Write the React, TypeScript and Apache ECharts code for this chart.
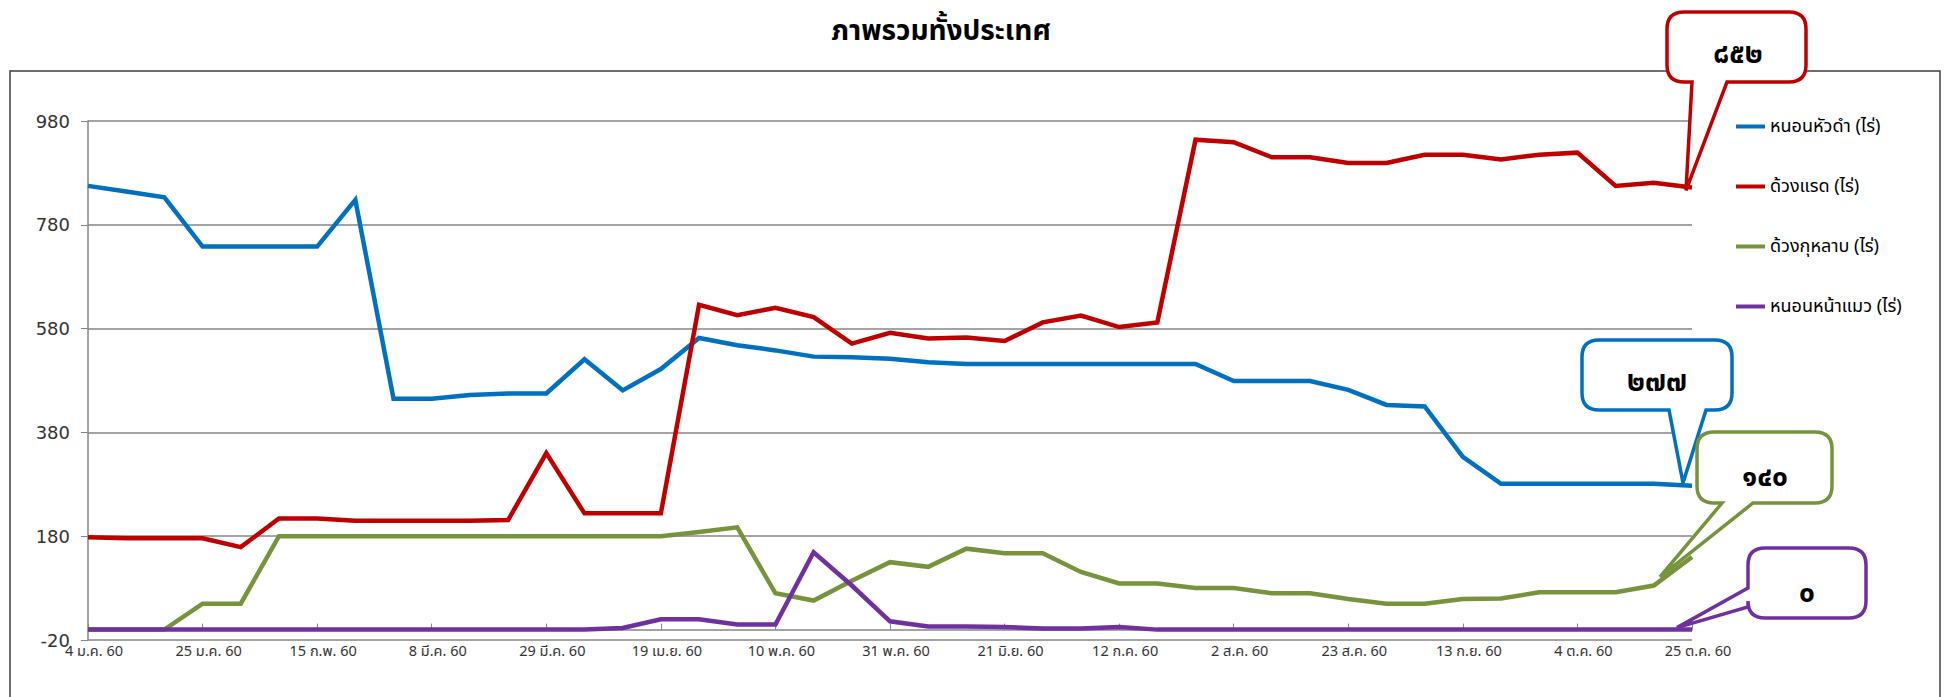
import React, { useEffect, useRef } from "react";
import * as echarts from "echarts";

const categories = [
  "4 ม.ค. 60", "11 ม.ค. 60", "18 ม.ค. 60", "25 ม.ค. 60",
  "1 ก.พ. 60", "8 ก.พ. 60", "15 ก.พ. 60", "22 ก.พ. 60",
  "1 มี.ค. 60", "8 มี.ค. 60", "15 มี.ค. 60", "22 มี.ค. 60", "29 มี.ค. 60",
  "5 เม.ย. 60", "12 เม.ย. 60", "19 เม.ย. 60", "26 เม.ย. 60",
  "3 พ.ค. 60", "10 พ.ค. 60", "17 พ.ค. 60", "24 พ.ค. 60", "31 พ.ค. 60",
  "7 มิ.ย. 60", "14 มิ.ย. 60", "21 มิ.ย. 60", "28 มิ.ย. 60",
  "5 ก.ค. 60", "12 ก.ค. 60", "19 ก.ค. 60", "26 ก.ค. 60",
  "2 ส.ค. 60", "9 ส.ค. 60", "16 ส.ค. 60", "23 ส.ค. 60", "30 ส.ค. 60",
  "6 ก.ย. 60", "13 ก.ย. 60", "20 ก.ย. 60", "27 ก.ย. 60",
  "4 ต.ค. 60", "11 ต.ค. 60", "18 ต.ค. 60", "25 ต.ค. 60",
];

const seriesNames = ["หนอนหัวดำ (ไร่)", "ด้วงแรด (ไร่)", "ด้วงกุหลาบ (ไร่)", "หนอนหน้าแมว (ไร่)"];

const blackHeadedCaterpillar = [
  855, 844, 833, 738, 738, 738, 738, 828, 445, 445,
  452, 455, 455, 521, 461, 502, 562, 548, 538, 526,
  525, 522, 515, 512, 512, 512, 512, 512, 512, 512,
  479, 479, 479, 462, 433, 430, 333, 281, 281, 281,
  281, 281, 277,
];
const rhinocerosBeetle = [
  178, 176, 176, 176, 159, 214, 214, 210, 210, 210,
  210, 211, 340, 224, 224, 224, 626, 606, 620, 602,
  551, 572, 561, 563, 556, 592, 605, 583, 592, 944,
  939, 910, 910, 899, 899, 915, 915, 906, 915, 919,
  855, 861, 852,
];
const roseBeetle = [
  0, 0, 0, 50, 50, 180, 180, 180, 180, 180,
  180, 180, 180, 180, 180, 180, 188, 197, 70, 56,
  94, 130, 121, 156, 147, 147, 111, 89, 89, 80,
  80, 70, 70, 59, 50, 50, 59, 60, 72, 72,
  72, 85, 140,
];
const nettleCaterpillar = [
  0, 0, 0, 0, 0, 0, 0, 0, 0, 0,
  0, 0, 0, 0, 3, 20, 20, 10, 10, 149,
  85, 16, 6, 6, 5, 2, 2, 5, 0, 0,
  0, 0, 0, 0, 0, 0, 0, 0, 0, 0,
  0, 0, 0,
];

const seriesColors = ["#0070C0", "#C00000", "#77933C", "#7030A0"];
const calloutTexts = ["๒๗๗", "๘๕๒", "๑๔๐", "๐"];
const titleText = "ภาพรวมทั้งประเทศ";

const THAI_FONT = "Tahoma, 'Noto Sans Thai', 'Leelawadee UI', Loma, Garuda, 'DejaVu Sans', sans-serif";

function calloutBottom(x0: number, y0: number, x1: number, y1: number, r: number, b1: number, b2: number, tx: number, ty: number) {
  return `M${x0 + r} ${y0} L${x1 - r} ${y0} Q${x1} ${y0} ${x1} ${y0 + r} L${x1} ${y1 - r} Q${x1} ${y1} ${x1 - r} ${y1} L${b2} ${y1} L${tx} ${ty} L${b1} ${y1} L${x0 + r} ${y1} Q${x0} ${y1} ${x0} ${y1 - r} L${x0} ${y0 + r} Q${x0} ${y0} ${x0 + r} ${y0} Z`;
}
function calloutLeft(x0: number, y0: number, x1: number, y1: number, r: number, b1: number, b2: number, tx: number, ty: number) {
  return `M${x0 + r} ${y0} L${x1 - r} ${y0} Q${x1} ${y0} ${x1} ${y0 + r} L${x1} ${y1 - r} Q${x1} ${y1} ${x1 - r} ${y1} L${x0 + r} ${y1} Q${x0} ${y1} ${x0} ${y1 - r} L${x0} ${b2} L${tx} ${ty} L${x0} ${b1} L${x0} ${y0 + r} Q${x0} ${y0} ${x0 + r} ${y0} Z`;
}

export default function App() {
  const ref = useRef<HTMLDivElement>(null);
  useEffect(() => {
    document.body.style.margin = "0";
    const chart = echarts.init(ref.current!, null, { renderer: "svg" });
    const data = [blackHeadedCaterpillar, rhinocerosBeetle, roseBeetle, nettleCaterpillar];
    chart.setOption({
      animation: false,
      backgroundColor: "#ffffff",
      grid: { left: 88, right: 260, top: 121, bottom: 57, containLabel: false, outerBoundsMode: "none" },
      legend: {
        orient: "vertical",
        left: 1731,
        top: 111,
        icon: "rect",
        itemWidth: 29,
        itemHeight: 4,
        itemGap: 39,
        data: seriesNames,
        textStyle: { fontSize: 18, color: "#000", fontFamily: THAI_FONT, lineHeight: 21 },
      },
      xAxis: {
        type: "category",
        data: categories,
        boundaryGap: false,
        axisLine: { lineStyle: { color: "#868686", width: 1.5 } },
        axisTick: { show: true, interval: 2, inside: true, length: 6, lineStyle: { color: "#868686" } },
        axisLabel: { interval: 2, margin: 4, fontSize: 14.5, color: "#333", fontFamily: THAI_FONT, padding: [0, 0, 0, 12] },
        splitLine: { show: false },
      },
      yAxis: {
        type: "value",
        min: -20,
        max: 980,
        interval: 200,
        axisLine: { show: true, lineStyle: { color: "#868686", width: 1.5 } },
        axisTick: { show: true, length: 7, lineStyle: { color: "#868686" } },
        axisLabel: { margin: 18, fontSize: 18, color: "#333", fontFamily: "Tahoma, 'DejaVu Sans', sans-serif" },
        splitLine: { show: true, lineStyle: { color: "#868686", width: 1.5 } },
      },
      series: seriesNames.map((name, i) => ({
        name,
        type: "line",
        data: data[i],
        symbol: "none",
        color: seriesColors[i],
        lineStyle: { width: 4.5, color: seriesColors[i], join: "miter" },
        z: 2 + i,
      })),
    });

    const last = categories.length - 1;
    const pt = (v: number) => chart.convertToPixel({ xAxisIndex: 0, yAxisIndex: 0 }, [last, v]) as number[];
    const pBlue = pt(blackHeadedCaterpillar[last]);
    const pRed = pt(rhinocerosBeetle[last]);
    const pGreen = pt(roseBeetle[last]);
    const pPurple = pt(nettleCaterpillar[last]);

    const callouts = [
      { name: "calloutBlue", d: calloutBottom(1582, 340, 1732, 410, 17, 1669, 1706, pBlue[0] - 9, pBlue[1] - 3), color: seriesColors[0], text: calloutTexts[0], cx: 1657, cy: 382 },
      { name: "calloutRed", d: calloutBottom(1667, 12, 1806, 82, 17, 1692, 1727, pRed[0] - 6, pRed[1] + 3), color: seriesColors[1], text: calloutTexts[1], cx: 1738, cy: 54 },
      { name: "calloutGreen", d: calloutBottom(1697, 432, 1832, 503, 17, 1722, 1753, pGreen[0] - 32, pGreen[1] + 20), color: seriesColors[2], text: calloutTexts[2], cx: 1765, cy: 477 },
      { name: "calloutPurple", d: calloutLeft(1748, 548, 1866, 618, 17, 588, 607, pPurple[0] - 15, pPurple[1] - 2), color: seriesColors[3], text: calloutTexts[3], cx: 1807, cy: 593 },
    ];
    callouts.forEach((c) => {
      echarts.graphic.registerShape(c.name, echarts.graphic.extendPath(c.d, {}) as any);
    });

    const graphic: any[] = [
      {
        type: "rect",
        silent: true,
        z: 0,
        shape: { x: 10, y: 71, width: 1930, height: 700 },
        style: { fill: "none", stroke: "#404040", lineWidth: 1.5 },
      },
      {
        type: "text",
        x: 941,
        y: 31,
        z: 10,
        style: { text: titleText, align: "center", verticalAlign: "middle", font: `bold 28px ${THAI_FONT}`, fill: "#000" },
      },
    ];
    callouts.forEach((c) => {
      graphic.push({
        type: c.name,
        x: 0,
        y: 0,
        z: 100,
        style: { fill: "#ffffff", stroke: c.color, lineWidth: 3.5, lineJoin: "miter" },
      });
      graphic.push({
        type: "text",
        x: c.cx,
        y: c.cy,
        z: 101,
        style: { text: c.text, align: "center", verticalAlign: "middle", font: `bold 28px ${THAI_FONT}`, fill: "#000" },
      });
    });
    chart.setOption({ graphic });

    return () => chart.dispose();
  }, []);
  return <div ref={ref} style={{ width: 1952, height: 697 }} />;
}
